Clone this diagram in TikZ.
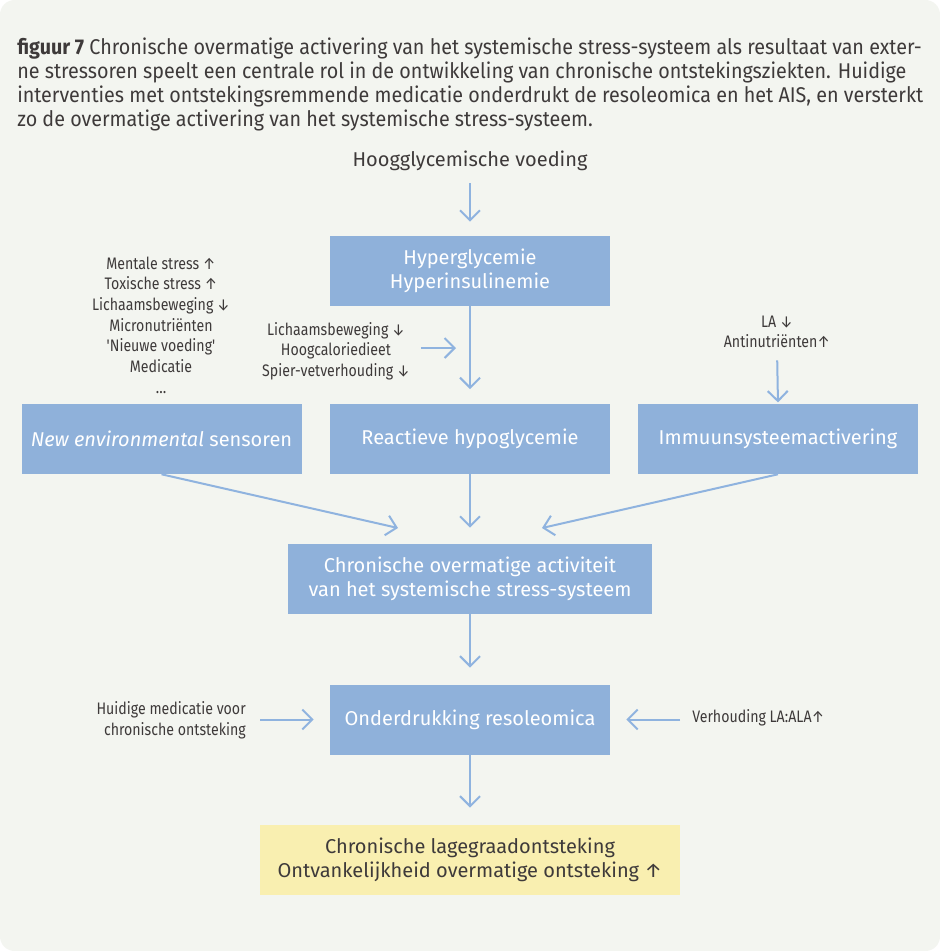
\documentclass[tikz,border=0pt]{standalone}
\usepackage{fontspec}
\setmainfont{Fira Sans}
\newfontfamily\condfont[FakeStretch=0.85]{Fira Sans}
\newfontfamily\capfont[FakeStretch=0.925]{Fira Sans}
\usetikzlibrary{arrows.meta}
\definecolor{bgc}{HTML}{F3F5F0}
\definecolor{boxblue}{HTML}{8FB1DA}
\definecolor{arrc}{HTML}{8FB3DF}
\definecolor{yel}{HTML}{F9EFB0}
\definecolor{txt}{HTML}{3E3A3A}
\begin{document}
\begin{tikzpicture}[x=0.75pt,y=-0.75pt,
  bluebox/.style={fill=boxblue,text=white,inner sep=0pt,minimum width=210pt,minimum height=52.5pt,align=center,font=\fontsize{15}{18}\selectfont},
  yelbox/.style={fill=yel,text=txt,inner sep=0pt,minimum width=315pt,minimum height=52.5pt,align=center,font=\fontsize{15}{18}\selectfont},
  lab/.style={text=txt,inner sep=0pt,align=center,font=\condfont\fontsize{12.5}{15.5}\selectfont},
  captxt/.style={text=txt,inner sep=0pt,anchor=base west,font=\capfont\fontsize{16}{18}\selectfont},
  arr/.style={draw=arrc,line width=1.5pt,-{Straight Barb[length=7.5pt,width=15pt,line width=1.5pt]}}
]
\useasboundingbox (0,0) rectangle (940,951);
\fill[white] (0,0) rectangle (940,951);
\fill[bgc,rounded corners=11pt] (0,0) rectangle (940,951);

% caption
\node[captxt] (c1) at (17,54) {\textbf{figuur 7} Chronische overmatige activering van het systemische stress-systeem als resultaat van exter-};
\node[captxt] (c2) at (17,78) {ne stressoren speelt een centrale rol in de ontwikkeling van chronische ontstekingsziekten. Huidige};
\node[captxt] (c3) at (17,102) {interventies met ontstekingsremmende medicatie onderdrukt de resoleomica en het AIS, en versterkt};
\node[captxt] (c4) at (17,126) {zo de overmatige activering van het systemische stress-systeem.};

% nodes
\node[text=txt,inner sep=0pt,font=\fontsize{15}{18}\selectfont] (hv) at (470,161) {Hoogglycemische voeding};
\node[bluebox] (hyper) at (470,271) {Hyperglycemie\\Hyperinsulinemie};
\node[bluebox] (react) at (470,439) {Reactieve hypoglycemie};
\node[bluebox] (env) at (161.5,439) {{\itshape New environmental} sensoren};
\node[bluebox] (imm) at (778,439) {Immuunsysteemactivering};
\node[bluebox,minimum width=273pt] (chron) at (470,579) {Chronische overmatige activiteit\\van het systemische stress-systeem};
\node[bluebox] (onder) at (470,719.5) {Onderdrukking resoleomica};
\node[yelbox] (yelb) at (470,859.5) {Chronische lagegraadontsteking\\Ontvankelijkheid overmatige ontsteking ↑};

\node[lab] (leftlab) at (161,325) {Mentale stress ↑\\Toxische stress ↑\\Lichaamsbeweging ↓\\Micronutriënten\\'Nieuwe voeding'\\Medicatie\\…};
\node[lab] (midlab) at (336,351) {Lichaamsbeweging ↓\\Hoogcaloriedieet\\Spier-vetverhouding ↓};
\node[lab] (rightlab) at (777,332) {LA ↓\\Antinutriënten↑};
\node[lab,align=right,anchor=east] (medlab) at (246,720) {Huidige medicatie voor\\chronische ontsteking};
\node[lab,anchor=west] (verlab) at (692,718) {Verhouding LA:ALA↑};

\coordinate (midend) at (456,348);
\coordinate (envend) at (398,528);
\coordinate (immend) at (542,528);

% connectors
\draw[arr,shorten <=9pt,shorten >=10.5pt] (hv.south) -- (hyper.north);
\draw[arr,shorten >=11pt] (hyper.south) -- (react.north);
\draw[arr,shorten <=8pt] (midlab.east |- midend) -- (midend);
\draw[arr,shorten <=9pt,shorten >=1pt] (rightlab.south) -- (imm.north);
\draw[arr] (env.south) -- (envend);
\draw[arr,shorten >=12pt] (react.south) -- (chron.north);
\draw[arr] (imm.south) -- (immend);
\draw[arr,shorten >=12.5pt] (chron.south) -- (onder.north);
\draw[arr,shorten <=10.5pt,shorten >=12pt] (medlab.east |- onder.west) -- (onder.west);
\draw[arr,shorten <=9pt,shorten >=12pt] (verlab.west |- onder.east) -- (onder.east);
\draw[arr,shorten >=12.5pt] (onder.south) -- (yelb.north);
\end{tikzpicture}
\end{document}
